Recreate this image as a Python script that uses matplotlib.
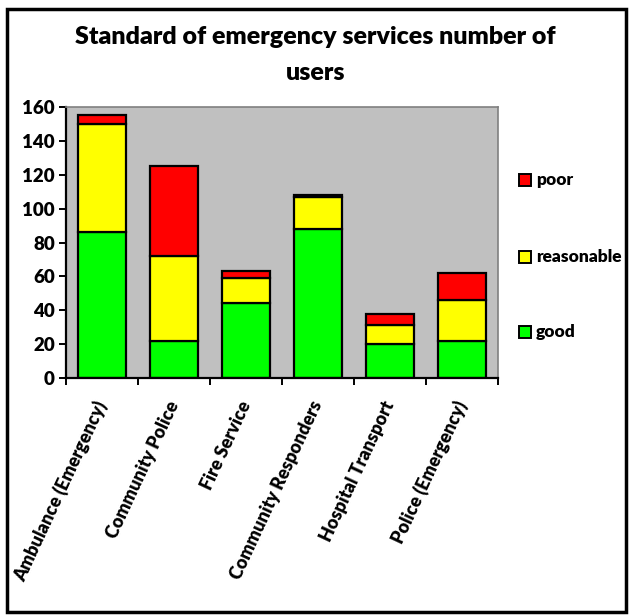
import matplotlib.pyplot as plt
from matplotlib.patches import Rectangle

services = ['Ambulance (Emergency)', 'Community Police', 'Fire Service',
            'Community Responders', 'Hospital Transport', 'Police (Emergency)']
good = [86, 22, 44, 88, 20, 22]
reasonable = [64, 50, 15, 19, 11, 24]
poor = [5, 53, 4, 1, 7, 16]

plt.rcParams['font.family'] = ['Lato', 'DejaVu Sans']
WT = 'heavy'

fig = plt.figure(figsize=(6.31, 6.15), dpi=100)
W, H = 631, 615
ax = fig.add_axes([66 / W, 1 - 378 / H, (498 - 66) / W, (378 - 107) / H])
ax.set_facecolor('#c0c0c0')

x = range(len(services))
base2 = [g + r for g, r in zip(good, reasonable)]
ax.bar(x, good, width=0.66, color='#00ff00', edgecolor='black', linewidth=1.6, label='good')
ax.bar(x, reasonable, width=0.66, bottom=good, color='#ffff00', edgecolor='black', linewidth=1.6, label='reasonable')
ax.bar(x, poor, width=0.66, bottom=base2, color='#ff0000', edgecolor='black', linewidth=1.6, label='poor')

ax.set_xlim(-0.5, len(services) - 0.5)
ax.set_ylim(0, 160)
ax.set_yticks(range(0, 161, 20))
ax.set_xticks([i - 0.5 for i in range(len(services) + 1)])
ax.set_xticklabels([])
ax.set_xticks(list(x), minor=True)
ax.set_xticklabels(services, minor=True, rotation=65, ha='right', va='center',
                   rotation_mode='anchor', fontsize=13, fontweight=WT)
ax.tick_params(axis='x', which='minor', length=0, pad=17)
ax.tick_params(axis='x', which='major', length=5, width=1.4, direction='out')
ax.tick_params(axis='y', length=5, width=1.4, direction='out', labelsize=13.5, pad=3)
for lab in ax.get_yticklabels():
    lab.set_fontweight(WT)

for s in ['left', 'bottom']:
    ax.spines[s].set_color('black')
    ax.spines[s].set_linewidth(1.6)
for s in ['top', 'right']:
    ax.spines[s].set_color('#808080')
    ax.spines[s].set_linewidth(1.2)

fig.text(0.5, 1 - 37 / H, 'Standard of emergency services number of', ha='center', va='center',
         fontsize=18, fontweight=WT)
fig.text(0.5, 1 - 73 / H, 'users', ha='center', va='center', fontsize=18, fontweight=WT)

# legend, drawn manually to match spacing
for name, col, yy in [('poor', '#ff0000', 180), ('reasonable', '#ffff00', 257), ('good', '#00ff00', 332)]:
    fig.patches.append(Rectangle((519 / W, 1 - (yy + 6) / H), 12 / W, 12 / H, transform=fig.transFigure,
                                 facecolor=col, edgecolor='black', linewidth=1.4))
    fig.text(536 / W, 1 - yy / H, name, ha='left', va='center', fontsize=12.5, fontweight=WT)

# outer frame
fig.patches.append(Rectangle((7 / W, 1 - 612 / H), 619 / W, 603 / H, transform=fig.transFigure,
                             fill=False, edgecolor='black', linewidth=2.5))

fig.savefig('out.png', dpi=100)
